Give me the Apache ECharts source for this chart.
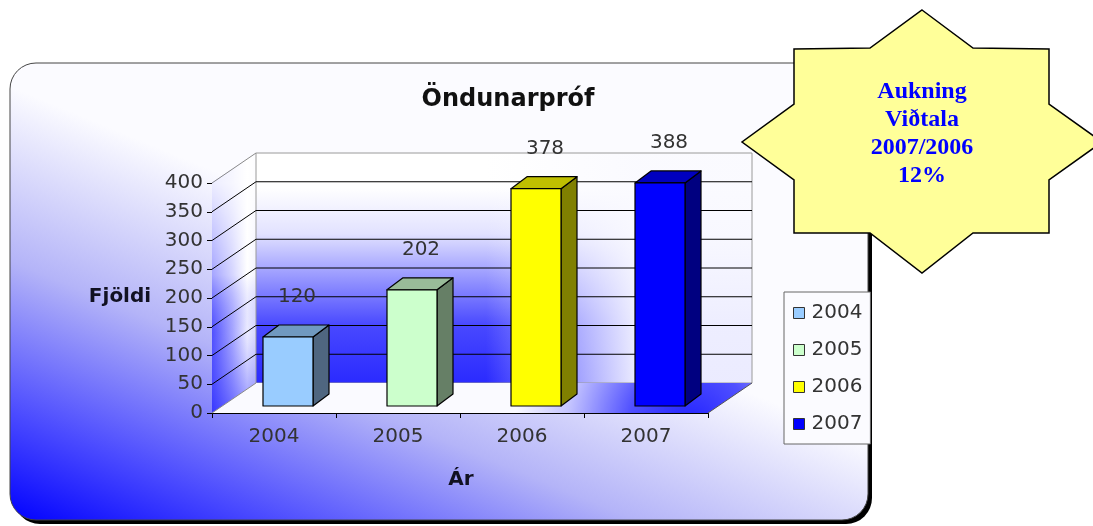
<!DOCTYPE html>
<html>
<head>
<meta charset="utf-8">
<title>Öndunarpróf</title>
<script src="https://cdn.jsdelivr.net/npm/echarts@6/dist/echarts.min.js"></script>
<style>
  html, body { margin: 0; padding: 0; background: #ffffff; }
  #chart { width: 1093px; height: 526px; }
</style>
</head>
<body>
<div id="chart"></div>
<script>
// Yearly counts of breathing tests
const years = ['2004', '2005', '2006', '2007'];
const counts = [120, 202, 378, 388];
const yMin = 0;
const yMax = 400;
const yStep = 50;

// Bar face colours (front, side, top) per year
const frontColors = ['#99ccff', '#ccffcc', '#ffff00', '#0000ff'];
const sideColors = ['#4f6680', '#667f66', '#808000', '#000080'];
const topColors = ['#7099c0', '#99bb99', '#bfbf00', '#0000bf'];

// Callout text
const calloutLines = ['Aukning', 'Viðtala', '2007/2006', '12%'];

const chart = echarts.init(document.getElementById('chart'), null, { renderer: 'canvas' });
const LG = echarts.graphic.LinearGradient;
const RG = echarts.graphic.RadialGradient;

// depth offset of the back wall relative to the front plane
const DX = 44, DY = -30;
// bar geometry
const BAR_SHIFT = 14, BAR_W = 50, BAR_DX = 16, BAR_DY = -12, BAR_LIFT = -7;

const tickValues = [];
for (let v = yMin; v <= yMax; v += yStep) tickValues.push(v);

function renderWalls(params, api) {
  const cs = params.coordSys;
  const L = cs.x, R = cs.x + cs.width;
  const y0 = api.coord([0, yMin])[1];
  const yT = api.coord([0, yMax])[1];
  const bx = L + DX, by0 = y0 + DY, byT = yT + DY;
  const children = [];
  // side wall
  children.push({
    type: 'polygon',
    shape: { points: [[L, y0], [bx, by0], [bx, byT], [L, yT]] },
    style: {
      fill: new LG(L, 0, bx, 0, [
        { offset: 0, color: '#4848ff' },
        { offset: 0.45, color: '#a8a8ff' },
        { offset: 0.8, color: '#ffffff' },
        { offset: 1, color: '#e8e8ff' }
      ], true),
      stroke: null
    }
  });
  children.push({
    type: 'polygon',
    shape: { points: [[L, y0], [bx, by0], [bx, byT], [L, yT]] },
    style: {
      fill: new LG(0, y0, 0, yT, [
        { offset: 0, color: 'rgba(40,40,255,0.55)' },
        { offset: 0.35, color: 'rgba(120,120,255,0.15)' },
        { offset: 0.6, color: 'rgba(255,255,255,0.5)' },
        { offset: 1, color: 'rgba(255,255,255,0.9)' }
      ], true),
      stroke: null
    }
  });
  // back wall: blue rising from the floor, fading to white toward the right
  children.push({
    type: 'rect',
    shape: { x: bx, y: byT, width: R - L, height: y0 - yT },
    style: {
      fill: new LG(0, by0, 0, byT, [
        { offset: 0, color: '#2a2aff' },
        { offset: 0.25, color: '#4848ff' },
        { offset: 0.45, color: '#9494ff' },
        { offset: 0.65, color: '#e2e2ff' },
        { offset: 0.85, color: '#ffffff' },
        { offset: 1, color: '#ffffff' }
      ], true),
      stroke: null
    }
  });
  children.push({
    type: 'rect',
    shape: { x: bx, y: byT, width: R - L, height: y0 - yT },
    style: {
      fill: new LG(bx + 230, 0, bx + 380, 0, [
        { offset: 0, color: 'rgba(250,250,255,0)' },
        { offset: 1, color: 'rgba(250,250,255,0.93)' }
      ], true),
      stroke: '#9a9a9a',
      lineWidth: 1
    }
  });
  // floor
  children.push({
    type: 'polygon',
    shape: { points: [[L, y0], [R, y0], [R + DX, by0], [bx, by0]] },
    style: {
      fill: new RG(690, y0 + 14, 175, [
        { offset: 0, color: '#2020ff' },
        { offset: 0.35, color: '#5050ff' },
        { offset: 0.7, color: '#c4c4ff' },
        { offset: 1, color: '#fafaff' }
      ], true),
      stroke: null
    }
  });
  // horizontal lines on the back wall and diagonals on the side wall
  tickValues.forEach(function (v) {
    const y = api.coord([0, v])[1];
    const edge = (v === yMin || v === yMax);
    if (!edge) {
      children.push({
        type: 'line',
        shape: { x1: bx, y1: y + DY, x2: R + DX, y2: y + DY },
        style: { stroke: '#000000', lineWidth: 1 }
      });
    }
    children.push({
      type: 'line',
      shape: { x1: L, y1: y, x2: bx, y2: y + DY },
      style: { stroke: edge ? '#8a8a8a' : '#000000', lineWidth: 1 }
    });
  });
  // floor right edge
  children.push({
    type: 'line',
    shape: { x1: R, y1: y0, x2: R + DX, y2: by0 },
    style: { stroke: '#555555', lineWidth: 1 }
  });
  return { type: 'group', children: children };
}

function makeBarRenderer(idx) {
  return function (params, api) {
    const i = api.value(0);
    const v = api.value(1);
    const base = api.coord([i, 0]);
    const top = api.coord([i, v]);
    const x1 = base[0] + BAR_SHIFT - BAR_W / 2;
    const x2 = x1 + BAR_W;
    const yb = base[1] + BAR_LIFT;
    const yt = top[1] + BAR_LIFT;
    const stroke = { stroke: '#000000', lineWidth: 1.2, lineJoin: 'round' };
    return {
      type: 'group',
      children: [
        {
          type: 'polygon',
          shape: { points: [[x2, yb], [x2 + BAR_DX, yb + BAR_DY], [x2 + BAR_DX, yt + BAR_DY], [x2, yt]] },
          style: Object.assign({ fill: sideColors[idx] }, stroke)
        },
        {
          type: 'polygon',
          shape: { points: [[x1, yt], [x2, yt], [x2 + BAR_DX, yt + BAR_DY], [x1 + BAR_DX, yt + BAR_DY]] },
          style: Object.assign({ fill: topColors[idx] }, stroke)
        },
        {
          type: 'rect',
          shape: { x: x1, y: yt, width: BAR_W, height: yb - yt },
          style: Object.assign({ fill: frontColors[idx] }, stroke)
        },
        {
          type: 'text',
          style: {
            text: String(v),
            x: base[0] + 23,
            y: top[1] - 47,
            align: 'center',
            verticalAlign: 'middle',
            font: '20px "DejaVu Sans"',
            fill: '#333333'
          }
        }
      ]
    };
  };
}

const series = [{
  type: 'custom',
  name: 'walls',
  silent: true,
  z: 1,
  data: [[0, 0]],
  renderItem: renderWalls
}];

years.forEach(function (yr, idx) {
  series.push({
    type: 'custom',
    name: yr,
    z: 3,
    itemStyle: { color: frontColors[idx] },
    data: [[idx, counts[idx]]],
    renderItem: makeBarRenderer(idx)
  });
});

// star-shaped callout outline
const starPoints = [
  [922, 10], [973, 48], [1049, 49], [1049, 104], [1102, 142], [1049, 180],
  [1049, 233], [973, 233], [922, 273], [870, 233], [794, 233], [794, 180],
  [742, 142], [794, 104], [794, 49], [870, 48]
];

const option = {
  animation: false,
  grid: { left: 212, right: 385, top: 183, bottom: 113, containLabel: false },
  xAxis: {
    type: 'category',
    data: years,
    axisLine: { show: true, lineStyle: { color: '#000000', width: 1 } },
    axisTick: { show: true, length: 5, lineStyle: { color: '#000000' } },
    axisLabel: { margin: 14, fontFamily: 'DejaVu Sans', fontSize: 20, color: '#333333' },
    splitLine: { show: false }
  },
  yAxis: {
    type: 'value',
    min: yMin,
    max: yMax,
    interval: yStep,
    axisLine: { show: true, lineStyle: { color: '#000000', width: 1 } },
    axisTick: { show: true, length: 5, lineStyle: { color: '#000000' } },
    axisLabel: { margin: 9, fontFamily: 'DejaVu Sans', fontSize: 20, color: '#333333' },
    splitLine: { show: false }
  },
  legend: {
    data: years,
    orient: 'vertical',
    left: 784,
    top: 292,
    icon: 'rect',
    itemWidth: 11,
    itemHeight: 11,
    itemGap: 17,
    padding: [11, 8, 10, 9],
    backgroundColor: '#fbfbff',
    borderColor: '#666666',
    borderWidth: 1,
    borderRadius: 0,
    selectedMode: false,
    itemStyle: { borderColor: '#333333', borderWidth: 1 },
    textStyle: { fontFamily: 'DejaVu Sans', fontSize: 20, color: '#333333', padding: [0, 0, 0, 2] }
  },
  graphic: [
    // drop shadow of the panel
    {
      type: 'rect', z: -20, silent: true,
      shape: { x: 14, y: 67, width: 858, height: 457, r: 26 },
      style: { fill: '#000000' }
    },
    // panel with diagonal blue-to-white fill
    {
      type: 'rect', z: -19, silent: true,
      shape: { x: 10, y: 63, width: 858, height: 457, r: 26 },
      style: {
        fill: new LG(10, 522, 164, 150, [
          { offset: 0, color: '#0000ff' },
          { offset: 0.25, color: '#4a4aff' },
          { offset: 0.6, color: '#b4b4f8' },
          { offset: 1, color: '#fbfbff' }
        ], true),
        stroke: '#444444',
        lineWidth: 1
      }
    },
    {
      type: 'text', z: 5, silent: true,
      style: {
        text: 'Öndunarpróf', x: 508, y: 100, align: 'center', verticalAlign: 'middle',
        font: 'bold 24px "DejaVu Sans"', fill: '#111111'
      }
    },
    {
      type: 'text', z: 5, silent: true,
      style: {
        text: 'Fjöldi', x: 120, y: 297, align: 'center', verticalAlign: 'middle',
        font: 'bold 20px "DejaVu Sans"', fill: '#111122'
      }
    },
    {
      type: 'text', z: 5, silent: true,
      style: {
        text: 'Ár', x: 461, y: 480, align: 'center', verticalAlign: 'middle',
        font: 'bold 20px "DejaVu Sans"', fill: '#111122'
      }
    },
    // callout star
    {
      type: 'polygon', z: 50, silent: true,
      shape: { points: starPoints },
      style: { fill: '#ffff99', stroke: '#000000', lineWidth: 1.5 }
    },
    {
      type: 'text', z: 51, silent: true,
      style: {
        text: calloutLines.join('\n'), x: 922, y: 134, align: 'center', verticalAlign: 'middle',
        font: 'bold 24px "Liberation Serif"', lineHeight: 28, fill: '#0000ff'
      }
    }
  ],
  series: series
};

chart.setOption(option);
</script>
</body>
</html>
